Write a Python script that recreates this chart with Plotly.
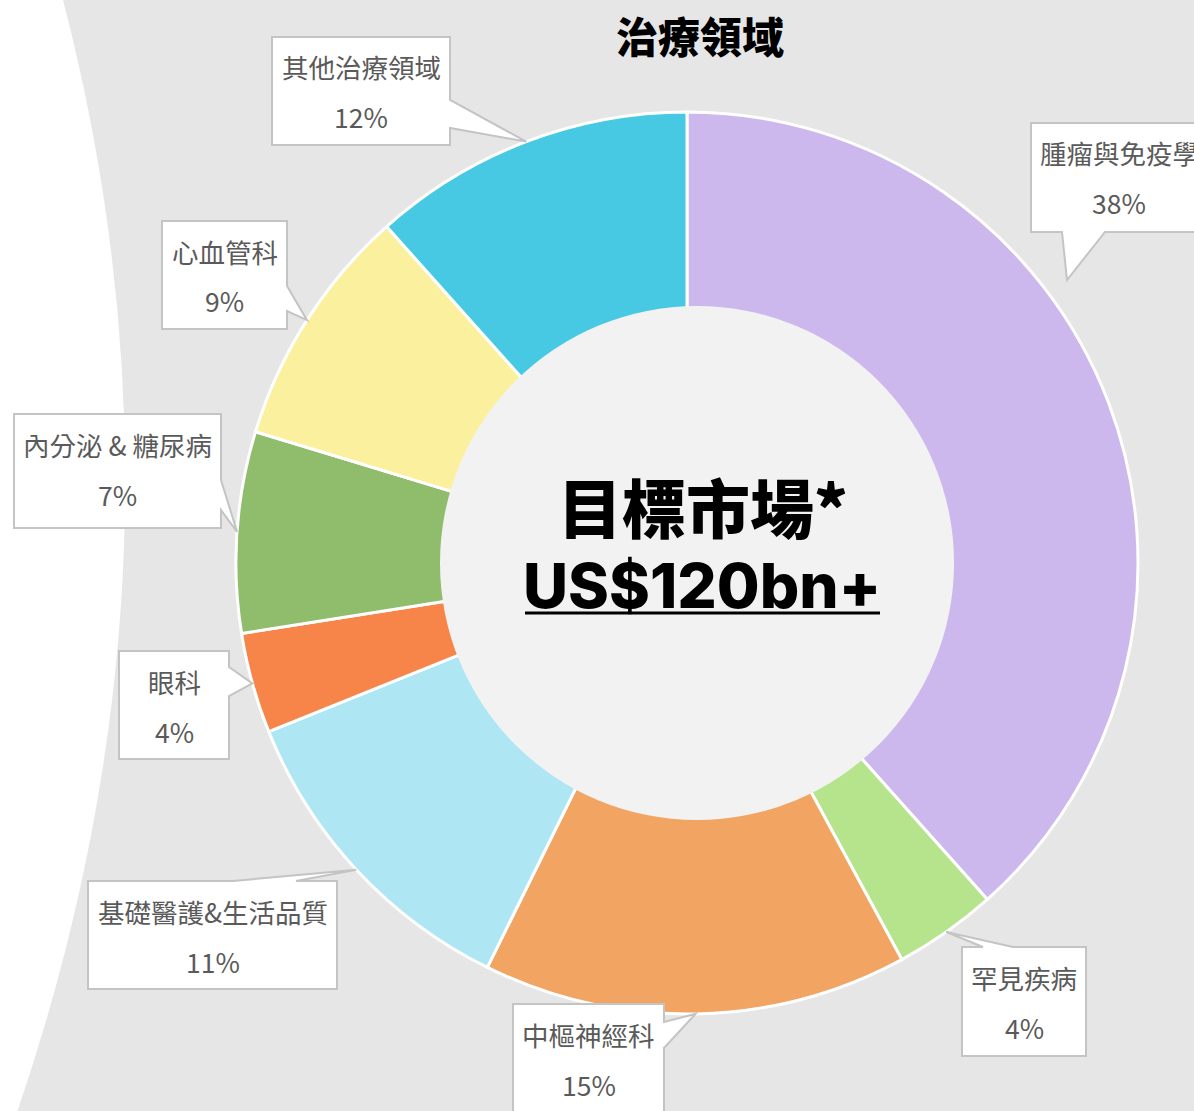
import math
import plotly.graph_objects as go

# ---------------- data ----------------
categories = ["腫瘤與免疫學", "罕見疾病", "中樞神經科", "基礎醫護&生活品質",
              "眼科", "內分泌 & 糖尿病", "心血管科", "其他治療領域"]
values = [38.4, 3.7, 15.2, 11.6, 3.6, 7.2, 8.7, 11.6]
pct_text = ["38%", "4%", "15%", "11%", "4%", "7%", "9%", "12%"]
colors = ["#cdb8ee", "#b5e48c", "#f2a462", "#aee6f3",
          "#f7854a", "#8fbd6b", "#faf09d", "#48c9e3"]
title_text = "治療領域"
center_line1 = "目標市場*"
center_line2 = "US$120bn+"

# ---------------- layout constants (pixels) ----------------
W, H = 1194, 1111
CX, CY, R = 687, 563, 451
HOLE_CX, HOLE_R = 697, 257


def px(x, y):
    return x / W, 1 - y / H


# callout boxes: (L, T, R, B, side, base1, base2, tip_override)
callouts = [
    (1031, 123, 1207, 232, "bottom", 1062, 1105, (1067, 280)),
    (962, 947, 1086, 1056, "top", 983, 1013, None),
    (513, 1004, 664, 1140, "right", 1022, 1048, None),
    (88, 881, 337, 989, "top", 233, 296, None),
    (119, 651, 229, 759, "right", 667, 696, None),
    (14, 414, 221, 528, "right", 480, 510, None),
    (162, 221, 287, 329, "right", 286, 311, None),
    (272, 37, 450, 145, "right", 100, 128, None),
]

fig = go.Figure()

dx0, dy1 = px(CX - R, CY - R)
dx1, dy0 = px(CX + R, CY + R)
fig.add_trace(go.Pie(
    labels=categories, values=values, sort=False, direction="clockwise",
    rotation=0, hole=0.5,
    marker=dict(colors=colors, line=dict(color="white", width=3)),
    textinfo="none", hoverinfo="label+percent", showlegend=False,
    domain=dict(x=[dx0, dx1], y=[dy0, dy1]),
))

shapes = []


def P(x, y):
    a, b = px(x, y)
    return f"{a:.6f},{b:.6f}"


# white left region (background decoration)
shapes.append(dict(
    type="path", xref="paper", yref="paper", layer="below",
    path=f"M {P(0,0)} L {P(63,0)} Q {P(207,555.5)} {P(17.5,1111)} L {P(0,1111)} Z",
    fillcolor="white", line=dict(width=0),
))

# center circle
c0x, c0y = px(HOLE_CX - HOLE_R, CY + HOLE_R)
c1x, c1y = px(HOLE_CX + HOLE_R, CY - HOLE_R)
shapes.append(dict(type="circle", xref="paper", yref="paper", layer="above",
                   x0=c0x, y0=c0y, x1=c1x, y1=c1y,
                   fillcolor="#f2f2f2", line=dict(width=0)))

annotations = []
total = sum(values)
cum = 0.0
for i, (name, v, pt) in enumerate(zip(categories, values, pct_text)):
    mid = (cum + v / 2) / total
    cum += v
    L, T, Rr, B, side, b1, b2, tip_o = callouts[i]
    if tip_o is None:
        th = 2 * math.pi * mid
        tip = (CX + R * math.sin(th), CY - R * math.cos(th))
    else:
        tip = tip_o
    tx, ty = tip
    if side == "right":
        path = (f"M {P(L,T)} L {P(Rr,T)} L {P(Rr,b1)} L {P(tx,ty)} L {P(Rr,b2)} "
                f"L {P(Rr,B)} L {P(L,B)} Z")
    elif side == "top":
        path = (f"M {P(L,T)} L {P(b1,T)} L {P(tx,ty)} L {P(b2,T)} L {P(Rr,T)} "
                f"L {P(Rr,B)} L {P(L,B)} Z")
    else:  # bottom
        path = (f"M {P(L,T)} L {P(Rr,T)} L {P(Rr,B)} L {P(b2,B)} L {P(tx,ty)} "
                f"L {P(b1,B)} L {P(L,B)} Z")
    shapes.append(dict(type="path", xref="paper", yref="paper", layer="above",
                       path=path, fillcolor="white",
                       line=dict(color="#c4c4c4", width=2)))
    mx = (L + Rr) / 2
    for txt, yy in ((name, T + 30), (pt, T + 80)):
        ax, ay = px(mx, yy)
        annotations.append(dict(
            x=ax, y=ay, xref="paper", yref="paper", text=txt, showarrow=False,
            xanchor="center", yanchor="middle",
            font=dict(family="Noto Sans CJK TC", size=26.5, color="#5a5a5a"),
        ))

# underline for the market size
u0x, uy = px(525, 613)
u1x, _ = px(880, 613)
shapes.append(dict(type="line", xref="paper", yref="paper", layer="above",
                   x0=u0x, x1=u1x, y0=uy, y1=uy,
                   line=dict(color="black", width=3)))

ax, ay = px(700, 35)
annotations.append(dict(x=ax, y=ay, xref="paper", yref="paper",
                        text=title_text, showarrow=False,
                        xanchor="center", yanchor="middle",
                        font=dict(family="Noto Sans CJK TC", size=42, color="black",
                                  weight=900)))
ax, ay = px(703, 505)
annotations.append(dict(x=ax, y=ay, xref="paper", yref="paper",
                        text=center_line1, showarrow=False,
                        xanchor="center", yanchor="middle",
                        font=dict(family="Noto Sans CJK TC", size=64, color="black",
                                  weight=900)))
ax, ay = px(702, 585)
annotations.append(dict(x=ax, y=ay, xref="paper", yref="paper",
                        text=center_line2, showarrow=False,
                        xanchor="center", yanchor="middle",
                        font=dict(family="Inter, Noto Sans CJK TC", size=62, color="black",
                                  weight=800)))

fig.update_layout(
    width=W, height=H, margin=dict(l=0, r=0, t=0, b=0),
    paper_bgcolor="#e6e6e6", plot_bgcolor="#e6e6e6",
    shapes=shapes, annotations=annotations, showlegend=False,
)

fig.write_html("out.html", config={"displayModeBar": False},
               post_script="document.body.style.margin='0';document.body.style.overflow='hidden';")
